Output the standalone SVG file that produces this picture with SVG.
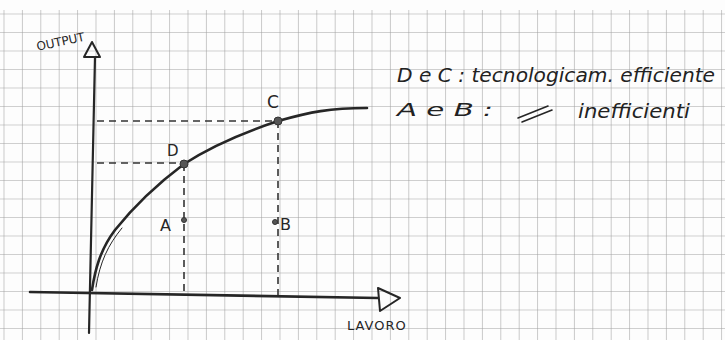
<svg xmlns="http://www.w3.org/2000/svg" width="725" height="340" viewBox="0 0 725 340">
<defs>
<style>
.grid line{stroke:#9a9a9a;stroke-width:1}
.ink{stroke:#262626;fill:none;stroke-linecap:round;stroke-linejoin:round}
.dash{stroke:#333;stroke-width:1.6;stroke-dasharray:7 5;fill:none}
.lbl{font-family:"DejaVu Sans","Liberation Sans",sans-serif;fill:#262626}
.hand{font-family:"DejaVu Sans","Liberation Sans",sans-serif;font-style:italic;fill:#222}
.pt{fill:#555;stroke:#333;stroke-width:1}
</style>
<pattern id="g" x="3.5" y="13.5" width="18.4" height="18.5" patternUnits="userSpaceOnUse">
<path d="M0 0V18.5M0 0H18.4" stroke="#a0a0a0" stroke-width="1.1" fill="none"/>
</pattern>
</defs>
<rect width="725" height="340" fill="#fdfdfd"/>
<rect x="0" y="10" width="725" height="330" fill="url(#g)"/>
<g id="axes">
<path class="ink" d="M95 57 L89 333" stroke-width="2.2"/>
<path class="ink" d="M92 42 L100 57 L84 57 Z" stroke-width="2"/>
<path class="ink" d="M30 292 L378 298" stroke-width="2.6"/>
<path class="ink" d="M378 288 L400 298 L380 311 Z" stroke-width="2"/>
<text class="lbl" x="36" y="47" font-size="12" transform="rotate(-12 55 42)">OUTPUT</text>
<text class="lbl" x="347" y="330" font-size="13" letter-spacing="1">LAVORO</text>
</g>
<g id="connectors">
<path class="ink" stroke-width="2.6" d="M92 290 C95 270 100 250 115 230 C135 205 160 182 184 164 C210 147 245 132 278 121 C310 112 330 108 367 108"/>
<path class="ink" stroke-width="1" stroke="#777" d="M96 287 C100 262 108 245 122 228"/>
<path class="dash" d="M97 121 H278"/>
<path class="dash" d="M97 163 H184"/>
<path class="dash" d="M184 164 V292"/>
<path class="dash" d="M278 121 V295"/>
</g>
<g id="D">
<circle class="pt" cx="184" cy="164" r="4"/>
<text class="lbl" x="167" y="156" font-size="15">D</text>
</g>
<g id="C">
<circle class="pt" cx="278" cy="121" r="4"/>
<text class="lbl" x="267" y="108" font-size="17">C</text>
</g>
<g id="A">
<circle class="pt" cx="184" cy="220" r="2.5"/>
<text class="lbl" x="160" y="231" font-size="16">A</text>
</g>
<g id="B">
<circle class="pt" cx="275" cy="222" r="2.5"/>
<text class="lbl" x="280" y="230" font-size="16">B</text>
</g>
<g id="legend">
<text class="hand" x="397" y="82" font-size="20" textLength="318" lengthAdjust="spacingAndGlyphs">D e C : tecnologicam. efficiente</text>
<text class="hand" x="397" y="116" font-size="18" textLength="96" lengthAdjust="spacingAndGlyphs">A e B :</text>
<path class="ink" stroke-width="1.6" d="M518 118 L548 106 M522 122 L552 110"/>
<text class="hand" x="578" y="118" font-size="20" textLength="112" lengthAdjust="spacingAndGlyphs">inefficienti</text>
</g>
</svg>
